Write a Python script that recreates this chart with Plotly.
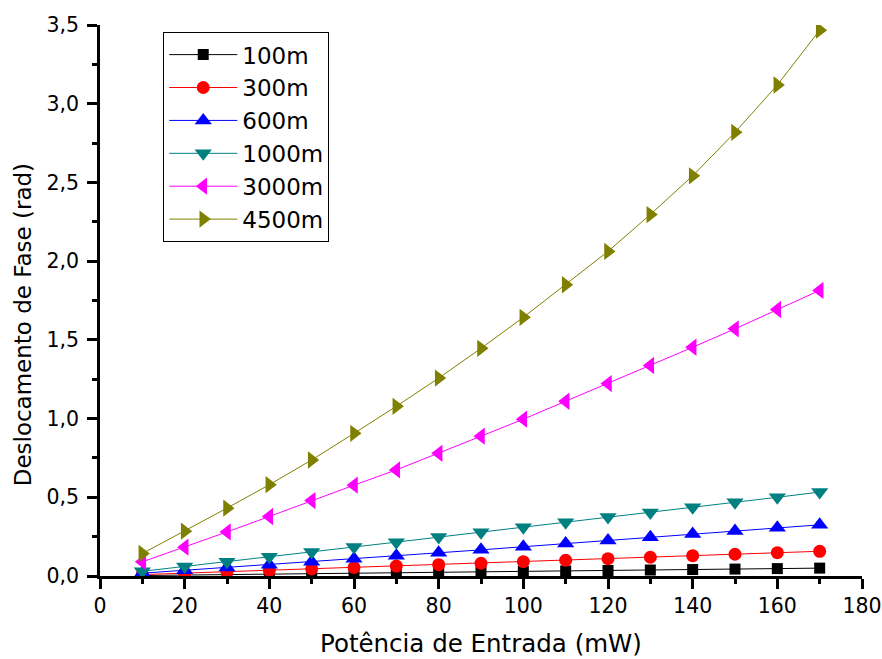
import plotly.graph_objects as go

power = [10, 20, 30, 40, 50, 60, 70, 80, 90, 100, 110, 120, 130, 140, 150, 160, 170]

s100 = [0.003, 0.006, 0.009, 0.012, 0.015, 0.018, 0.020, 0.023, 0.026, 0.029, 0.032, 0.035, 0.038, 0.041, 0.044, 0.047, 0.050]
s300 = [0.009, 0.018, 0.027, 0.036, 0.045, 0.054, 0.063, 0.072, 0.081, 0.091, 0.100, 0.110, 0.119, 0.129, 0.138, 0.148, 0.157]
s600 = [0.018, 0.036, 0.054, 0.072, 0.091, 0.110, 0.128, 0.147, 0.166, 0.186, 0.206, 0.226, 0.246, 0.266, 0.286, 0.306, 0.325]
s1000 = [0.030, 0.060, 0.091, 0.122, 0.153, 0.184, 0.215, 0.247, 0.278, 0.310, 0.342, 0.374, 0.404, 0.436, 0.468, 0.500, 0.533]
s3000 = [0.090, 0.183, 0.280, 0.378, 0.479, 0.577, 0.674, 0.779, 0.888, 0.996, 1.110, 1.222, 1.337, 1.453, 1.570, 1.693, 1.814]
s4500 = [0.143, 0.285, 0.431, 0.580, 0.737, 0.906, 1.078, 1.257, 1.446, 1.643, 1.850, 2.062, 2.296, 2.542, 2.818, 3.119, 3.467]

labels = ["100m", "300m", "600m", "1000m", "3000m", "4500m"]
series = [s100, s300, s600, s1000, s3000, s4500]
colors = ["#000000", "#FF0000", "#0000FF", "#008080", "#FF00FF", "#808000"]
symbols = ["square", "circle", "triangle-up", "triangle-down", "triangle-left", "triangle-right"]
sizes = [11, 13, 15, 15, 15, 15]

FONT = "DejaVu Sans, Liberation Sans, Arial, sans-serif"

fig = go.Figure()
for lab, ys, c, sym, sz in zip(labels, series, colors, symbols, sizes):
    fig.add_trace(go.Scatter(
        x=power, y=ys, name=lab, mode="lines+markers", legendgroup=lab,
        line=dict(color=c, width=1),
        marker=dict(symbol=sym, size=sz, color=c, line=dict(width=0)),
    ))

axis_common = dict(
    showline=True, linecolor="black", linewidth=2.5,
    ticks="outside", ticklen=10, tickwidth=2.5, tickcolor="black",
    showgrid=False, zeroline=False, mirror=False, automargin=False,
    tickfont=dict(family=FONT, size=20.5, color="black"),
)

fig.update_layout(
    width=882, height=659,
    margin=dict(l=100, r=20, t=25, b=83),
    paper_bgcolor="white", plot_bgcolor="white",
    separators=",.",
    font=dict(family=FONT, color="black"),
    xaxis=dict(
        range=[0, 180], dtick=20, tick0=0, ticklabelstandoff=0,
        minor=dict(dtick=10, ticks="outside", ticklen=5, tickwidth=2.5, tickcolor="black"),
        **axis_common,
    ),
    yaxis=dict(
        range=[0, 3.5], dtick=0.5, tick0=0, tickformat=".1f", ticklabelstandoff=4,
        minor=dict(dtick=0.25, ticks="outside", ticklen=5, tickwidth=2.5, tickcolor="black"),
        **axis_common,
    ),
    legend=dict(
        x=0.083, y=0.987, xanchor="left", yanchor="top",
        bordercolor="black", borderwidth=1, bgcolor="white",
        font=dict(size=23, family=FONT),
        traceorder="grouped", tracegroupgap=0, itemwidth=68,
    ),
    showlegend=True,
    annotations=[
        dict(text="Potência de Entrada (mW)", xref="paper", yref="paper",
             x=0.5, y=-0.122, xanchor="center", yanchor="middle", showarrow=False,
             font=dict(size=24.5, family=FONT, color="black")),
        dict(text="Deslocamento de Fase (rad)", xref="paper", yref="paper",
             x=-0.101, y=0.455, xanchor="center", yanchor="middle", showarrow=False,
             textangle=-90, font=dict(size=23, family=FONT, color="black")),
    ],
)

fig.write_html("out.html", config={"displayModeBar": False},
               post_script="document.body.style.margin='0';document.body.style.overflow='hidden';")
